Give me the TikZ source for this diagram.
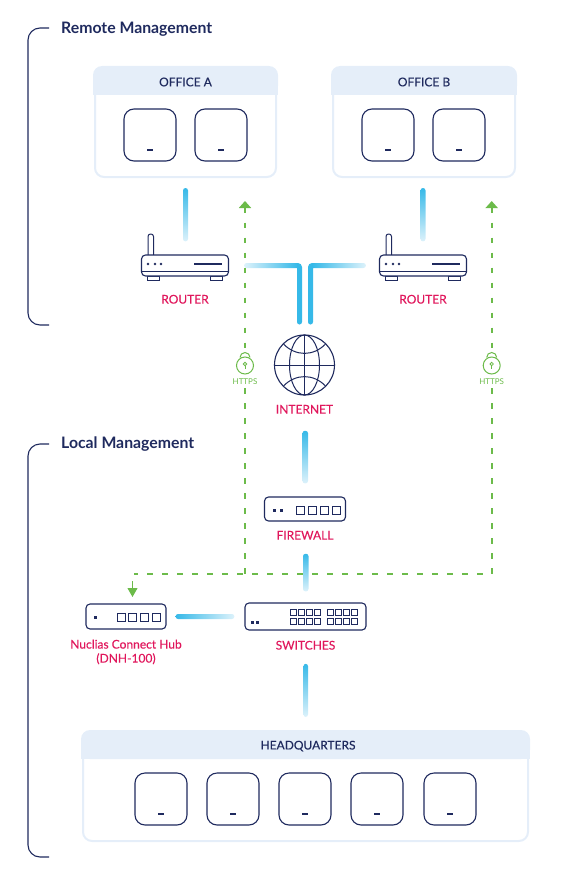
\documentclass[tikz,border=0pt]{standalone}
\usepackage{fontspec}
\setmainfont{Lato}
\newfontfamily\netmedium[FakeBold=0.3]{Lato}
\usetikzlibrary{arrows.meta,positioning,calc,shapes.misc}
\definecolor{netnavy}{HTML}{1F2A5E}
\definecolor{netpink}{HTML}{E0175C}
\definecolor{netgreen}{HTML}{6CBB4A}
\definecolor{sitehead}{HTML}{E5EEF9}
\definecolor{linkblue}{HTML}{36B9E8}
\definecolor{linkpale}{HTML}{DDF2FB}
\tikzset{
  net/title/.style={anchor=west, inner sep=0pt, text=netnavy, font=\fontsize{15.8}{18}\selectfont\bfseries},
  net/bracket/.style={draw=netnavy, line width=1.1pt, rounded corners=12pt},
  net/site/.style={draw=sitehead, line width=2pt, fill=white, rounded corners=9pt, inner sep=0pt},
  net/sitename/.style={inner sep=0pt, text=netnavy, font=\fontsize{12}{15}\selectfont\netmedium},
  net/ap/.style={draw=netnavy, line width=1.1pt, rounded corners=10pt, inner sep=0pt, minimum size=52pt},
  net/device/.style={draw=netnavy, line width=1.1pt, rounded corners=4pt, inner sep=0pt, fill=white},
  net/port/.style={draw=netnavy, line width=.9pt, inner sep=0pt, minimum size=#1},
  net/thin/.style={draw=netnavy, line width=1pt},
  net/led/.style={fill=netnavy},
  net/label/.style={inner sep=0pt, align=center, text=netpink, text height=9pt, text depth=0pt, font=\fontsize{12}{14}\selectfont\netmedium},
  net/https/.style={draw=netgreen, line width=2pt, dash pattern=on 5.5pt off 9.5pt},
  net/lock/.style={circle, draw=netgreen, line width=1pt, inner sep=0pt, minimum size=17pt},
  net/httpstext/.style={inner sep=0pt, text=netgreen, font=\fontsize{8}{10}\selectfont},
  net/tip/.style={{Triangle[width=12pt,length=7pt]}-},
  net/down/.style={top color=linkblue, bottom color=linkpale, rounded corners=2.5pt},
  net/fromleft/.style={left color=linkblue, right color=linkpale, rounded corners=2.5pt},
  net/fromright/.style={left color=linkpale, right color=linkblue, rounded corners=2.5pt},
  net/trunk/.style={draw=linkblue, line width=5pt, line cap=round}
}

\begin{document}
\begin{tikzpicture}[x=1pt,y=-1pt,node distance=10pt and 18pt]
  \useasboundingbox (0,0) rectangle (560,888);

  % brackets
  \draw[net/bracket] (49,28) -- (28,28) -- (28,325) -- (49,325);
  \draw[net/bracket] (49,444) -- (28,444) -- (28,857) -- (49,857);
  \node[net/title] (remote) at (61,29) {Remote Management};
  \node[net/title] (local) at (61,444) {Local Management};

  % sites
  \node[net/site, minimum width=181pt, minimum height=109pt] (officeA) at (185.5,122.5) {};
  \node[net/site, minimum width=182pt, minimum height=109pt] (officeB) at (424,122.5) {};
  \node[net/site, minimum width=445pt, minimum height=109pt] (hq) at (305.5,786.5) {};
  \foreach \site/\name/\nudge in {officeA/OFFICE A/0, officeB/OFFICE B/0, hq/HEADQUARTERS/2.5} {
    \fill[sitehead, rounded corners=9pt] ($(\site.north west)+(-1,-1)$) rectangle ($(\site.north east)+(1,28)$);
    \fill[sitehead] ($(\site.north west)+(-1,14)$) rectangle ($(\site.north east)+(1,28)$);
    \node[net/sitename] (\site name) at ($(\site.north)+(\nudge,15)$) {\name};
  }
  \foreach \x in {150,221,388,459} {
    \node[net/ap] (ap\x) at (\x,135) {};
    \fill[net/led] ($(ap\x.south)+(-3,-12.5)$) rectangle ($(ap\x.south)+(3,-10.5)$);
  }
  \foreach \x in {161,233,305,377,450} {
    \node[net/ap] (hqap\x) at (\x,799) {};
    \fill[net/led] ($(hqap\x.south)+(-3,-12.5)$) rectangle ($(hqap\x.south)+(3,-10.5)$);
  }

  % routers
  \foreach \r/\x in {routerA/185,routerB/423} {
    \begin{scope}[shift={(\x,0)}]
      \draw[net/thin, fill=white, rounded corners=2.5pt] (-37,255) -- (-37,234) -- (-31.5,234) -- (-31.5,255);
      \draw[net/thin, fill=white] (-38,276) rectangle (-26,280);
      \draw[net/thin, fill=white] (25,276) rectangle (37,280);
      \node[net/device, minimum width=87pt, minimum height=21pt] (\r) at (0,265.5) {};
      \draw[net/thin] (-44,271) -- (44,271);
      \foreach \d in {-37,-30,-24} \fill[net/led] (\d,264) circle (1.3pt);
      \fill[net/led] (9,263) rectangle (37,265);
    \end{scope}
    \node[net/label, below=17.8pt of \r] (\r label) {ROUTER};
  }

  % internet
  \node[circle, draw=netnavy, line width=1.1pt, inner sep=0pt, minimum size=60pt] (globe) at (304.5,365) {};
  \begin{scope}[shift={(globe)}]
    \draw[net/thin] (0,0) ellipse (15pt and 30pt);
    \draw[net/thin] (0,-30) -- (0,30);
    \draw[net/thin] (-30,0) -- (30,0);
    \draw[net/thin] (-21,-21) .. controls (-9,-8.5) and (9,-8.5) .. (21,-21);
    \draw[net/thin] (-21,21) .. controls (-9,8.5) and (9,8.5) .. (21,21);
  \end{scope}
  \node[net/label, below=8.8pt of globe] (internet) {INTERNET};

  % firewall
  \node[net/device, minimum width=81pt, minimum height=24pt] (firewall) at (305,509) {};
  \foreach \x in {300,312,324,336} \node[net/port=8pt] (fwport\x) at (\x,510) {};
  \fill[net/led] (272.5,509) rectangle (275.5,512);
  \fill[net/led] (279.5,509) rectangle (282.5,512);
  \node[net/label, below=8.8pt of firewall] (firewalllabel) {FIREWALL};

  % switches
  \node[net/device, minimum width=121pt, minimum height=27pt] (switches) at (305.5,616.5) {};
  \foreach \x in {293,301.3,309.6,317.9,330,338.3,346.6,354.9} {
    \node[net/port=6pt] at (\x,612) {};
    \node[net/port=6pt] at (\x,621) {};
  }
  \fill[net/led] (251,620.5) rectangle (254,623.5);
  \fill[net/led] (256,620.5) rectangle (259,623.5);
  \node[net/label, below=9.8pt of switches] (switcheslabel) {SWITCHES};

  % hub
  \node[net/device, minimum width=80pt, minimum height=25pt] (hub) at (126,616.5) {};
  \foreach \x in {121,132.7,144.4,156} \node[net/port=8pt] (hubport\x) at (\x,617) {};
  \fill[net/led] (93.5,615.5) rectangle (96.5,618.5);
  \node[net/label, text height=23pt, below=9.8pt of hub] (hublabel) {Nuclias Connect Hub\\(DNH-100)};

  % links
  \shade[net/down] ($(officeA.south)+(-2.5,10)$) rectangle ($(routerA.north)+(3,-13)$);
  \shade[net/down] ($(officeB.south)+(-3.5,10)$) rectangle ($(routerB.north)+(2.5,-13)$);
  \shade[net/down] ($(internet.south)+(-2,17)$) rectangle ($(firewall.north)+(3,-13)$);
  \shade[net/down] ($(firewalllabel.south)+(-2,14)$) rectangle ($(switches.north)+(3,-11)$);
  \shade[net/down] ($(switcheslabel.south)+(-2,14)$) rectangle ($(hq.north)+(2.5,-14)$);
  \shade[net/fromleft] ($(hub.east)+(9,-2.5)$) rectangle ($(switches.west)+(-10,2.5)$);

  \coordinate (trunkA) at (299.5,322);
  \coordinate (trunkB) at (310.5,322);
  \draw[net/trunk, rounded corners=2pt] (trunkA) -- (trunkA |- 0,265.5) -- +(-4,0);
  \draw[net/trunk, rounded corners=2pt] (trunkB) -- (trunkB |- 0,265.5) -- +(4,0);
  \shade[net/fromright] ($(routerA.east)+(15,-2.5)$) rectangle ($(trunkA |- routerA.east)+(-2,2.5)$);
  \shade[net/fromleft] ($(trunkB |- routerB.west)+(2,-2.5)$) rectangle ($(routerB.west)+(-13,2.5)$);

  % https
  \foreach \l/\x in {A/245,B/491.7} {
    \node[net/lock] (lock\l) at (\x,365.5) {};
    \draw[draw=netgreen, line width=1pt] ($(lock\l)+(-5,-8)$) arc (180:0:5pt and 5pt);
    \draw[draw=netgreen, line width=.8pt] ($(lock\l)+(0,-1.5)$) circle (1.7pt);
    \draw[draw=netgreen, line width=.8pt] ($(lock\l)+(0,0)$) -- +(0,3.5);
    \node[net/httpstext] (https\l) at (\x,382) {HTTPS};
    \coordinate (tip\l) at (\x,201);
    \draw[net/https, net/tip] (tip\l) -- ($(lock\l.north)+(0,-6)$);
  }
  \coordinate (hubdrop) at (134,574);
  \coordinate (hubtip) at (132.5,597);
  \draw[net/https] ($(httpsB.south)+(0,3)$) |- (hubdrop);
  \draw[net/https] ($(httpsA.south)+(0,3)$) -- (httpsA.south |- hubdrop);
  \draw[draw=netgreen, line width=1pt, -{Triangle[width=10pt,length=9pt]}] ($(hubdrop)+(-1.5,7)$) -- (hubtip);
\end{tikzpicture}
\end{document}
